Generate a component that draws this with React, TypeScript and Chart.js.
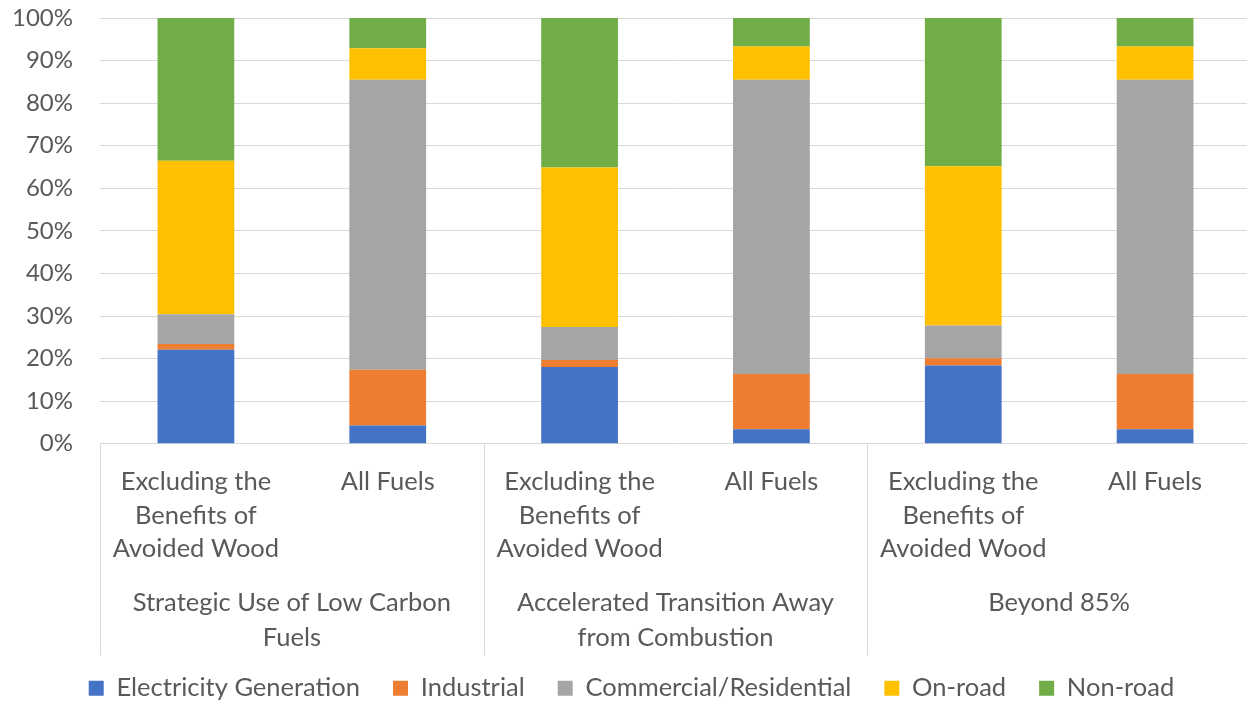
import React, { useEffect, useRef } from "react";
import { Chart, registerables } from "chart.js";

Chart.register(...registerables);

// Sub-categories (x ticks), shown as multi-line labels
const subCategoryLines: string[][] = [
  ["Excluding the", "Benefits of", "Avoided Wood"],
  ["All Fuels"],
  ["Excluding the", "Benefits of", "Avoided Wood"],
  ["All Fuels"],
  ["Excluding the", "Benefits of", "Avoided Wood"],
  ["All Fuels"],
];

// Outer groups (each spans two sub-categories)
const groupLines: string[][] = [
  ["Strategic Use of Low Carbon", "Fuels"],
  ["Accelerated Transition Away", "from Combustion"],
  ["Beyond 85%"],
];
const groupSize = 2;

// Series values (percent of total)
const electricityGeneration = [22.1, 4.3, 18.0, 3.4, 18.4, 3.4];
const industrial = [1.3, 13.1, 1.7, 13.0, 1.7, 13.0];
const commercialResidential = [7.0, 68.1, 7.7, 69.1, 7.7, 69.1];
const onRoad = [36.1, 7.4, 37.5, 7.8, 37.4, 7.8];
const nonRoad = [33.5, 7.1, 35.1, 6.7, 34.8, 6.7];

const seriesNames = [
  "Electricity Generation",
  "Industrial",
  "Commercial/Residential",
  "On-road",
  "Non-road",
];
const seriesColors = ["#4472C4", "#ED7D31", "#A5A5A5", "#FFC000", "#70AD47"];

const yMin = 0;
const yMax = 100;
const yStep = 10;

const FONT = "Lato";
const LABEL_SIZE = 25.5;
const TEXT_COLOR = "#595959";
const GRID_COLOR = "#D9D9D9";

const groupPlugin = {
  id: "groupLabels",
  afterDraw(chart: any) {
    const { ctx, chartArea, scales } = chart;
    const x = scales.x;
    const half = (x.getPixelForValue(1) - x.getPixelForValue(0)) / 2;
    ctx.save();
    ctx.strokeStyle = GRID_COLOR;
    ctx.lineWidth = 1;
    for (let g = 0; g <= groupLines.length; g++) {
      const px = Math.round(x.getPixelForValue(g * groupSize) - half) + 0.5;
      ctx.beginPath();
      ctx.moveTo(px, chartArea.bottom);
      ctx.lineTo(px, chartArea.bottom + 211.5);
      ctx.stroke();
    }
    ctx.fillStyle = TEXT_COLOR;
    ctx.font = `${LABEL_SIZE}px ${FONT}`;
    ctx.textAlign = "center";
    ctx.textBaseline = "middle";
    groupLines.forEach((lines, g) => {
      const a = x.getPixelForValue(g * groupSize);
      const b = x.getPixelForValue(g * groupSize + groupSize - 1);
      const cx = (a + b) / 2;
      lines.forEach((t, i) => {
        ctx.fillText(t, cx, chartArea.bottom + 159.5 + i * 35);
      });
    });
    ctx.restore();
  },
};

export default function App() {
  const canvasRef = useRef<HTMLCanvasElement | null>(null);

  useEffect(() => {
    document.body.style.margin = "0";
    const canvas = canvasRef.current;
    if (!canvas) return;
    const allSeries = [
      electricityGeneration,
      industrial,
      commercialResidential,
      onRoad,
      nonRoad,
    ];
    const chart = new Chart(canvas, {
      type: "bar",
      data: {
        labels: subCategoryLines as any,
        datasets: allSeries.map((values, i) => ({
          label: seriesNames[i],
          data: values,
          backgroundColor: seriesColors[i],
          borderWidth: 0,
          categoryPercentage: 1,
          barPercentage: 0.4,
        })),
      },
      options: {
        animation: false,
        responsive: false,
        maintainAspectRatio: false,
        layout: { padding: { left: 12, right: 1, top: 18, bottom: 0 } },
        plugins: {
          tooltip: { enabled: false },
          legend: {
            position: "bottom",
            labels: {
              font: { family: FONT, size: LABEL_SIZE },
              color: TEXT_COLOR,
              boxWidth: 15,
              boxHeight: 15,
              padding: 33,
            },
          },
        },
        scales: {
          x: {
            stacked: true,
            grid: { display: false, drawTicks: false },
            border: { display: false },
            ticks: {
              font: { family: FONT, size: LABEL_SIZE, lineHeight: 1.314 },
              color: TEXT_COLOR,
              padding: 21.5,
              maxRotation: 0,
              autoSkip: false,
            },
            afterFit: (scale: any) => {
              scale.height = 198.75;
            },
          },
          y: {
            stacked: true,
            min: yMin,
            max: yMax,
            grid: { color: GRID_COLOR, lineWidth: 1, drawTicks: false },
            border: { display: false },
            ticks: {
              stepSize: yStep,
              font: { family: FONT, size: 24 },
              color: TEXT_COLOR,
              padding: 27,
              callback: (v: any) => `${v}%`,
            },
            afterFit: (scale: any) => {
              scale.width = 88;
              scale.paddingTop = 0;
              scale.paddingBottom = 0;
            },
          },
        },
      },
      plugins: [groupPlugin],
    });
    return () => chart.destroy();
  }, []);

  return (
    <div
      style={{
        position: "absolute",
        left: 0,
        top: 0,
        width: 1247,
        height: 702,
        overflow: "hidden",
        background: "#fff",
      }}
    >
      <canvas
        ref={canvasRef}
        width={1252}
        height={711}
        style={{ width: 1252, height: 711, display: "block" }}
      />
    </div>
  );
}
